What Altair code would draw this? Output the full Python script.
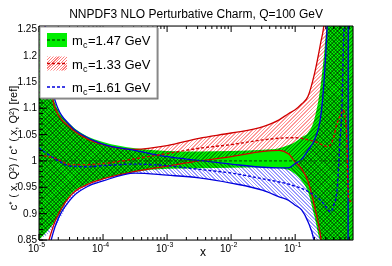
import altair as alt
import pandas as pd

# ---------------- data ----------------
X = [1e-5, 1.78e-5, 3.16e-5, 5.62e-5, 1e-4, 3.16e-4, 1e-3, 3.16e-3, 1e-2, 3.16e-2,
     5.62e-2, 7.94e-2, 0.1, 0.126, 0.158, 0.2, 0.251, 0.282, 0.316, 0.355,
     0.398, 0.447, 0.501, 0.537, 0.562, 0.631, 0.668, 0.679, 0.8]

# m_c = 1.47 GeV (reference)
G_C = [1.0, 1.0, 1.0, 1.0, 1.0, 1.0, 1.0, 1.0, 1.0, 1.0, 1.0, 1.0, 1.0, 1.0, 1.0,
       1.0, 1.0, 1.0, 1.0, 1.0, 1.0, 1.0, 1.0, 1.0, 1.0, 1.0, 1.0, 1.0, 1.0]
G_HI = [1.45, 1.11, 1.068, 1.047, 1.036, 1.024, 1.019, 1.018, 1.019, 1.021, 1.024, 1.030,
        1.036, 1.045, 1.053, 1.08, 1.145, 1.2, 1.3, 1.5, 1.5, 1.5, 1.5, 1.5, 1.5, 1.5,
        1.5, 1.5, 1.5]
G_LO = [0.78, 0.885, 0.937, 0.956, 0.966, 0.979, 0.985, 0.986, 0.987, 0.988, 0.986, 0.983,
        0.975, 0.962, 0.942, 0.895, 0.82, 0.77, 0.7, 0.5, 0.5, 0.5, 0.5, 0.5, 0.5, 0.5,
        0.5, 0.5, 0.5]

# m_c = 1.33 GeV
R_C = [1.011, 1.005, 0.993, 0.993, 0.995, 1.004, 1.014, 1.024, 1.031, 1.040, 1.043, 1.044,
       1.044, 1.043, 1.040, 1.037, 1.032, 1.029, 1.027, 1.03, 1.045, 1.07, 1.085, 1.093,
       1.097, 1.06, 0.95, 0.93, 0.92]
R_HI = [1.4, 1.10, 1.062, 1.042, 1.031, 1.022, 1.029, 1.043, 1.053, 1.065, 1.078, 1.090,
        1.097, 1.108, 1.122, 1.165, 1.225, 1.26, 1.35, 1.5, 1.5, 1.5, 1.5, 1.5, 1.5, 1.5,
        1.5, 1.5, 1.5]
R_LO = [0.78, 0.885, 0.935, 0.955, 0.966, 0.980, 0.990, 1.0, 1.008, 1.018, 1.020, 1.013,
        0.998, 0.985, 0.962, 0.915, 0.855, 0.8, 0.75, 0.5, 0.5, 0.5, 0.5, 0.5, 0.5, 0.5,
        0.5, 0.5, 0.5]

# m_c = 1.61 GeV
B_C = [1.025, 1.004, 0.99, 0.989, 0.991, 0.994, 0.991, 0.984, 0.977, 0.966, 0.960, 0.956,
       0.952, 0.948, 0.942, 0.935, 0.925, 0.918, 0.910, 0.903, 0.915, 0.94, 1.04, 1.10,
       1.2, 1.4, 1.5, 1.5, 1.5]
B_HI = [1.4, 1.115, 1.066, 1.045, 1.032, 1.02, 1.008, 1.001, 0.994, 0.988, 0.987, 0.987,
        0.995, 1.003, 1.02, 1.04, 1.085, 1.15, 1.26, 1.5, 1.5, 1.5, 1.5, 1.5, 1.5, 1.5,
        1.5, 1.5, 1.5]
B_LO = [0.75, 0.875, 0.928, 0.951, 0.962, 0.977, 0.973, 0.968, 0.958, 0.944, 0.932, 0.925,
        0.916, 0.907, 0.885, 0.845, 0.75, 0.6, 0.5, 0.5, 0.5, 0.5, 0.5, 0.5, 0.5, 0.5,
        0.5, 1.6, 1.6]

MASSES = ["1.47", "1.33", "1.61"]
X_MAJOR = [1e-5, 1e-4, 1e-3, 1e-2, 1e-1]
X_EXP = ["-5", "-4", "-3", "-2", "-1"]
X_MINOR = [m * 10.0 ** e for e in range(-5, 0) for m in range(2, 10) if m * 10.0 ** e < 0.79]
Y_MAJOR = [0.85, 0.9, 0.95, 1.0, 1.05, 1.1, 1.15, 1.2, 1.25]
Y_LABELS = ["0.85", "0.9", "0.95", "1", "1.05", "1.1", "1.15", "1.2", "1.25"]
Y_MINOR = [round(0.85 + 0.01 * i, 2) for i in range(41)]

TITLE = "NNPDF3 NLO Perturbative Charm, Q=100 GeV"
YTITLE = "c\u207a ( x, Q\u00b2) / c\u207a ( x, Q\u00b2) [ref]"
XTITLE = "x"

# ---------------- styling ----------------
W, H = 314, 214
YMIN, YMAX = 0.85, 1.256
FONT = "Liberation Sans"
GREEN = "#00ee00"
DKGREEN = "#006400"
RED = "#d00000"
BLUE = "#0000dd"
RHATCH = "#ff9a9a"
BHATCH = "#9a9aff"


def hatch(n, forward, color, w=0.42, r=H / W):
    stops = []
    clear = "rgba(255,255,255,0)"
    for i in range(n):
        a, b, c = i / n, (i + w) / n, (i + 1) / n
        stops += [{"offset": a, "color": color}, {"offset": b, "color": color},
                  {"offset": b, "color": clear}, {"offset": min(c, 1.0), "color": clear}]
    s = (1 + r) / (1 + r * r)
    if forward:
        geo = {"x1": 0, "y1": 0, "x2": s, "y2": s * r}
    else:
        geo = {"x1": 0, "y1": 1, "x2": s, "y2": 1 - s * r}
    return {"gradient": "linear", "stops": stops, **geo}


def band(lo, hi, c):
    return pd.DataFrame({"x": X, "lo": lo, "hi": hi, "c": c})


green = band(G_LO, G_HI, G_C)
red = band(R_LO, R_HI, R_C)
blue = band(B_LO, B_HI, B_C)

xs = alt.Scale(type="log", domain=[1e-5, 0.8], nice=False)
ys = alt.Scale(domain=[YMIN, YMAX], nice=False, zero=False)
one = pd.DataFrame({"a": [0]})


def area(df, fill, blend=None):
    kw = {"blend": blend} if blend else {}
    return (alt.Chart(df)
            .transform_calculate(lo2=f"clamp(datum.lo,{YMIN},{YMAX})",
                                 hi2=f"clamp(datum.hi,{YMIN},{YMAX})")
            .mark_area(fill=fill, interpolate="monotone", **kw)
            .encode(x=alt.X("x:Q", scale=xs, axis=None),
                    y=alt.Y("lo2:Q", scale=ys, axis=None), y2="hi2:Q"))


def line(df, field, color, dash=None, width=1.3):
    kw = {"strokeDash": dash} if dash else {}
    return (alt.Chart(df)
            .mark_line(color=color, strokeWidth=width, clip=True, interpolate="monotone", **kw)
            .encode(x=alt.X("x:Q", scale=xs, axis=None),
                    y=alt.Y(f"{field}:Q", scale=ys, axis=None)))


layers = [
    area(green, GREEN),
    area(red, hatch(150, True, RHATCH), blend="multiply"),
    area(blue, hatch(150, False, BHATCH), blend="multiply"),
    line(red, "hi", RED), line(red, "lo", RED),
    line(blue, "hi", BLUE), line(blue, "lo", BLUE),
    line(green, "c", DKGREEN, [3, 2], 1.2),
    line(red, "c", RED, [3, 2], 1.4),
    line(blue, "c", BLUE, [3, 2], 1.4),
]

# ticks (inside the frame)
xmaj = pd.DataFrame({"x": X_MAJOR, "e": X_EXP})
xmin = pd.DataFrame({"x": X_MINOR})
ymaj = pd.DataFrame({"y": Y_MAJOR, "lab": Y_LABELS})
ymin = pd.DataFrame({"y": Y_MINOR})
for df, L in [(xmaj, 6), (xmin, 3)]:
    for y0, y1 in [(H, H - L), (0, L)]:
        layers.append(alt.Chart(df).mark_rule(color="black", strokeWidth=1)
                      .encode(x=alt.X("x:Q", scale=xs, axis=None),
                              y=alt.value(y0), y2=alt.value(y1)))
for df, L in [(ymaj, 8), (ymin, 4)]:
    layers.append(alt.Chart(df).mark_rule(color="black", strokeWidth=1)
                  .encode(y=alt.Y("y:Q", scale=ys, axis=None),
                          x=alt.value(0), x2=alt.value(L)))

# tick labels
layers.append(alt.Chart(xmaj).mark_text(align="right", baseline="alphabetic", font=FONT,
                                        fontSize=10, color="black")
              .encode(x=alt.X("x:Q", scale=xs, axis=None), y=alt.value(H + 12),
                      text=alt.value("10")))
layers.append(alt.Chart(xmaj).mark_text(align="left", baseline="alphabetic", font=FONT,
                                        fontSize=7, color="black")
              .encode(x=alt.X("x:Q", scale=xs, axis=None), y=alt.value(H + 7),
                      text="e:N"))
layers.append(alt.Chart(ymaj).mark_text(align="right", baseline="middle", font=FONT,
                                        fontSize=10, color="black")
              .encode(y=alt.Y("y:Q", scale=ys, axis=None), x=alt.value(-2),
                      text="lab:N"))

# titles
layers.append(alt.Chart(one).mark_text(align="center", baseline="alphabetic", font=FONT,
                                       fontSize=12, color="black")
              .encode(x=alt.value(164), y=alt.value(H + 16), text=alt.value(XTITLE)))
layers.append(alt.Chart(one).mark_text(align="center", baseline="alphabetic", font=FONT,
                                       fontSize=12, color="black")
              .encode(x=alt.value(157), y=alt.value(-8), text=alt.value(TITLE)))
layers.append(alt.Chart(one).mark_text(align="center", baseline="alphabetic", font=FONT,
                                       fontSize=11, color="black", angle=270)
              .encode(x=alt.value(-22), y=alt.value(122), text=alt.value(YTITLE)))

# frame
layers.append(alt.Chart(one).mark_rect(fill="transparent", stroke="black", strokeWidth=1)
              .encode(x=alt.value(0), x2=alt.value(W), y=alt.value(0), y2=alt.value(H)))

# legend
leg = pd.DataFrame({"row": [0, 1, 2], "mass": MASSES})
lb = alt.Chart(leg).transform_calculate(
    ly="14 + 23.5*datum.row", ly0="7 + 23.5*datum.row", ly1="21 + 23.5*datum.row",
    lt="19 + 23.5*datum.row", ls="22 + 23.5*datum.row",
    lab="'=' + datum.mass + ' GeV'")
layers.append(alt.Chart(one).mark_rect(fill="#777777")
              .encode(x=alt.value(2), x2=alt.value(119.5), y=alt.value(2), y2=alt.value(73.5)))
layers.append(alt.Chart(one).mark_rect(fill="white", stroke="#999999", strokeWidth=1)
              .encode(x=alt.value(1), x2=alt.value(118), y=alt.value(1), y2=alt.value(72)))
layers.append(lb.transform_filter("datum.row == 0").mark_rect(fill=GREEN)
              .encode(x=alt.value(8), x2=alt.value(28), y=alt.Y("ly0:Q", scale=None),
                      y2="ly1:Q"))
layers.append(lb.transform_filter("datum.row == 1")
              .mark_rect(fill=hatch(12, True, "#ff7a7a", r=14 / 20))
              .encode(x=alt.value(8), x2=alt.value(28), y=alt.Y("ly0:Q", scale=None),
                      y2="ly1:Q"))
layers.append(lb.mark_rule(strokeDash=[3, 2], strokeWidth=1.3)
              .encode(x=alt.value(8), x2=alt.value(28), y=alt.Y("ly:Q", scale=None),
                      color=alt.Color("row:N", scale=alt.Scale(domain=[0, 1, 2],
                                                               range=[DKGREEN, RED, BLUE]),
                                      legend=None)))
layers.append(lb.mark_text(align="left", baseline="alphabetic", font=FONT, fontSize=13,
                           color="black")
              .encode(x=alt.value(33), y=alt.Y("lt:Q", scale=None), text=alt.value("m")))
layers.append(lb.mark_text(align="left", baseline="alphabetic", font=FONT, fontSize=9,
                           color="black")
              .encode(x=alt.value(44), y=alt.Y("ls:Q", scale=None), text=alt.value("c")))
layers.append(lb.mark_text(align="left", baseline="alphabetic", font=FONT, fontSize=13,
                           color="black")
              .encode(x=alt.value(49), y=alt.Y("lt:Q", scale=None), text="lab:N"))

chart = (alt.layer(*layers)
         .properties(width=W, height=H,
                     padding={"left": 31, "top": 18, "right": 23, "bottom": 18},
                     autosize=alt.AutoSizeParams(type="none"))
         .configure_view(strokeWidth=0)
         .configure(background="white"))

chart.save("out.html", embed_options={"renderer": "svg", "actions": False})
